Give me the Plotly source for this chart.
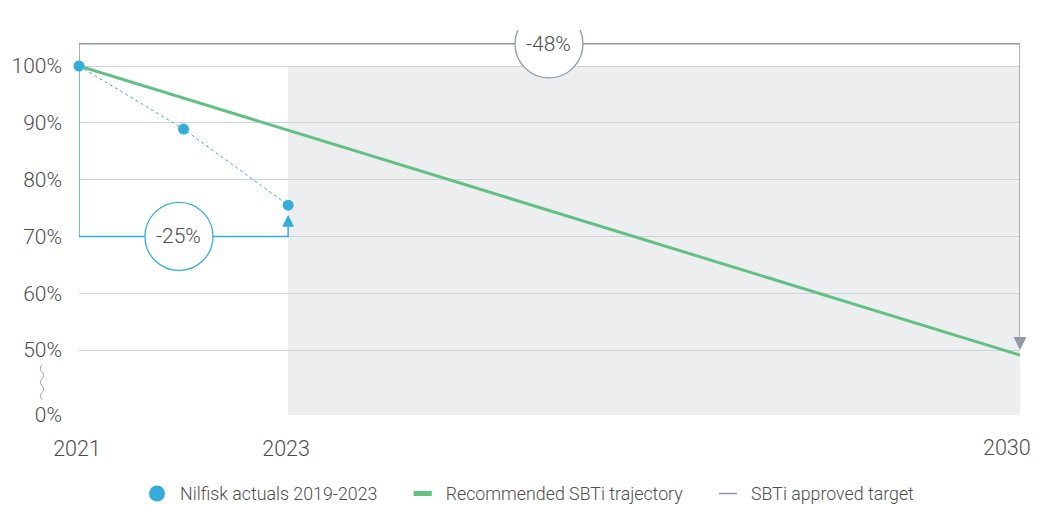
import plotly.graph_objects as go

# ---- data ----
years_actual = [2021, 2022, 2023]
actual_pct = [100, 88.9, 75.5]

years_traj = [2021, 2030]
traj_pct = [100, 49.1]

# axis ticks (axis is broken between 0% and 50%)
BREAK_ZERO = 38.56          # plotting position used for the "0%" tick
y_tickvals = [BREAK_ZERO, 50, 60, 70, 80, 90, 100]
y_ticktext = ["0%", "50%", "60%", "70%", "80%", "90%", "100%"]
x_tickvals = [2021, 2023, 2030]
x_ticktext = ["2021", "2023", "2030"]

legend_names = ["Nilfisk actuals 2019-2023",
                "Recommended SBTi trajectory",
                "SBTi approved target"]

# brackets / annotations
actual_change_label = "-25%"
target_change_label = "-48%"
actual_bracket_level = 70
actual_arrow_tip = 73.8
target_bracket_level = 103.9
target_end_level = 50

BLUE = "#35addb"
GREEN = "#63c084"
GREY = "#8e9aa8"
TEXT = "#4d4d4d"
FONT = "Roboto"
PAD = "\u00a0" * 4

fig = go.Figure()

# shaded future region
fig.add_shape(type="rect", xref="x", yref="y", x0=2023, x1=2030,
              y0=BREAK_ZERO, y1=100, fillcolor="#edeef0",
              line_width=0, layer="below")

# grey bracket (SBTi approved target)
fig.add_trace(go.Scatter(
    x=[years_traj[0], years_traj[0], years_traj[1], years_traj[1]],
    y=[actual_pct[0], target_bracket_level, target_bracket_level, target_end_level + 2.3],
    mode="lines", line=dict(color=GREY, width=1.5),
    showlegend=False, hoverinfo="skip", cliponaxis=False))
fig.add_trace(go.Scatter(
    x=[years_traj[1]], y=[target_end_level], mode="markers",
    marker=dict(symbol="arrow-down", size=13, color=GREY),
    showlegend=False, hoverinfo="skip", cliponaxis=False))

# blue bracket (actuals)
fig.add_trace(go.Scatter(
    x=[years_actual[0], years_actual[0], years_actual[-1], years_actual[-1]],
    y=[actual_pct[0], actual_bracket_level, actual_bracket_level, actual_arrow_tip - 1.8],
    mode="lines", line=dict(color=BLUE, width=1.5),
    showlegend=False, hoverinfo="skip", cliponaxis=False))
fig.add_trace(go.Scatter(
    x=[years_actual[-1]], y=[actual_arrow_tip], mode="markers",
    marker=dict(symbol="arrow-up", size=12, color=BLUE),
    showlegend=False, hoverinfo="skip", cliponaxis=False))

# trajectory
fig.add_trace(go.Scatter(
    x=years_traj, y=traj_pct, mode="lines",
    line=dict(color=GREEN, width=3),
    showlegend=False, hoverinfo="skip", cliponaxis=False))

# actuals
fig.add_trace(go.Scatter(
    x=years_actual, y=actual_pct, mode="lines+markers",
    line=dict(color=BLUE, width=1, dash="dot"),
    marker=dict(color=BLUE, size=11),
    showlegend=False, hoverinfo="skip", cliponaxis=False))

# legend-only entries
fig.add_trace(go.Scatter(x=[None], y=[None], mode="markers",
                         name=legend_names[0] + PAD,
                         marker=dict(color=BLUE, size=20, symbol="circle")))
fig.add_trace(go.Scatter(x=[None], y=[None], mode="markers",
                         name=legend_names[1] + PAD,
                         marker=dict(color=GREEN, size=13, symbol="line-ew-open",
                                     line=dict(color=GREEN, width=5))))
fig.add_trace(go.Scatter(x=[None], y=[None], mode="markers",
                         name=legend_names[2],
                         marker=dict(color=GREY, size=13, symbol="line-ew-open",
                                     line=dict(color=GREY, width=1.5))))

# label circles
def label_circle(xc, yc, text, color):
    fig.add_shape(type="circle", xref="x", yref="y",
                  xsizemode="pixel", ysizemode="pixel",
                  xanchor=xc, yanchor=yc, x0=-34, x1=34, y0=-34, y1=34,
                  fillcolor="white", line=dict(color=color, width=1.3),
                  layer="above")
    fig.add_annotation(x=xc, y=yc, xref="x", yref="y", text=text,
                       showarrow=False,
                       font=dict(family=FONT, size=21, color=TEXT, weight=300))

label_circle(2021.956, actual_bracket_level, actual_change_label, BLUE)
label_circle(2025.495, target_bracket_level, target_change_label, GREY)

# last year label: right-aligned so it stays inside the visible page
fig.add_annotation(x=x_tickvals[-1], y=-0.0857, xref="x", yref="paper",
                   text=x_ticktext[-1], showarrow=False,
                   xanchor="right", yanchor="middle", xshift=13,
                   font=dict(family=FONT, size=21.5, color=TEXT, weight=300))

# axis-break squiggle
fig.add_shape(type="path", xref="paper", yref="paper",
              path="M -0.0393 0.130 Q -0.0430 0.121 -0.0393 0.112 "
                   "Q -0.0356 0.103 -0.0393 0.094 Q -0.0430 0.085 -0.0393 0.076 "
                   "Q -0.0356 0.067 -0.0393 0.058 Q -0.0430 0.049 -0.0393 0.040",
              line=dict(color="#9aa6b4", width=1))

# page body has an 8px offset, so the figure is drawn 8px smaller
fig.update_layout(
    width=1033, height=497,
    margin=dict(l=71, r=21, t=22, b=90, autoexpand=False),
    paper_bgcolor="white", plot_bgcolor="white",
    font=dict(family=FONT, color=TEXT),
    showlegend=True,
    legend=dict(orientation="h", x=0.0585, xanchor="left",
                y=-0.205, yanchor="middle", itemwidth=36,
                font=dict(family=FONT, size=17.8, color=TEXT, weight=300)),
    xaxis=dict(range=[2021, 2030], tickvals=x_tickvals[:-1],
               ticktext=x_ticktext[:-1],
               showgrid=False, zeroline=False, showline=False,
               ticks="", ticklabelstandoff=18, ticklabelshift=-2,
               automargin=False, ticklabeloverflow="allow",
               tickfont=dict(family=FONT, size=21.5, color=TEXT, weight=300)),
    yaxis=dict(range=[BREAK_ZERO, 106.34], tickvals=y_tickvals,
               ticktext=y_ticktext, showgrid=True, gridcolor="#cdd2d7",
               gridwidth=1, zeroline=False, showline=False, ticks="",
               ticklabelstandoff=16, automargin=False,
               tickfont=dict(family=FONT, size=21, color=TEXT, weight=300)),
)

fig.write_html("out.html")
